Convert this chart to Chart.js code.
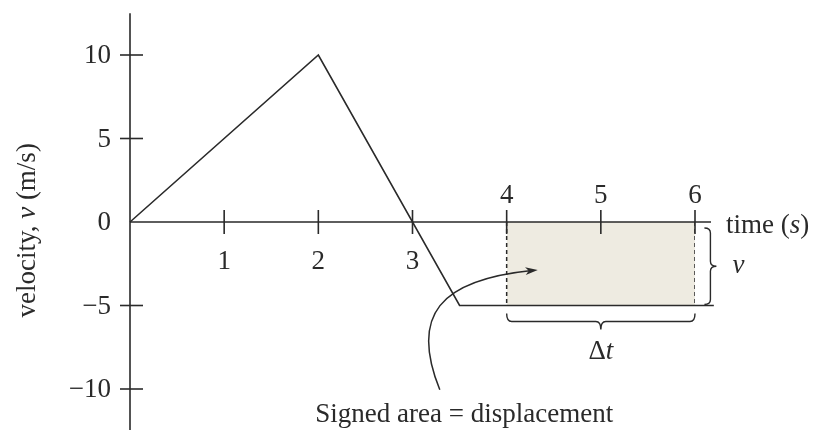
<!DOCTYPE html>
<html>
<head>
<meta charset="utf-8">
<script src="https://cdn.jsdelivr.net/npm/chart.js@4.4.1/dist/chart.umd.min.js"></script>
<style>
  html, body { margin: 0; padding: 0; background: #fff; }
</style>
</head>
<body>
<canvas id="chart" width="815" height="430"></canvas>
<script>
// Corners of the velocity graph
const times = [0, 2, 3.5, 6.2];          // s
const velocities = [0, 10, -5, -5];      // m/s

// Shaded interval (signed area)
const areaTimes = [4, 6];
const areaVelocity = -5;

// Tick labels
const xTicks = [1, 2, 3, 4, 5, 6];
const yTicks = [-10, -5, 0, 5, 10];

const ink = '#2a2a2a';
const serif = '"Liberation Serif", "DejaVu Serif", serif';

// Helper: text with italic parts, pieces = [[text, italic], ...]
function mixedText(ctx, pieces, x, y, size, align) {
    const widths = pieces.map(p => {
        ctx.font = (p[1] ? 'italic ' : '') + size + 'px ' + serif;
        return ctx.measureText(p[0]).width;
    });
    const total = widths.reduce((a, b) => a + b, 0);
    let cx = align === 'center' ? x - total / 2 : (align === 'right' ? x - total : x);
    ctx.textAlign = 'left';
    pieces.forEach((p, i) => {
        ctx.font = (p[1] ? 'italic ' : '') + size + 'px ' + serif;
        ctx.fillText(p[0], cx, y);
        cx += widths[i];
    });
}

const axesPlugin = {
    id: 'axes',
    afterDatasetsDraw(chart) {
        const ctx = chart.ctx;
        const sx = chart.scales.x, sy = chart.scales.y;
        const x0 = sx.getPixelForValue(0), y0 = sy.getPixelForValue(0);

        ctx.save();
        ctx.strokeStyle = ink;
        ctx.fillStyle = ink;
        ctx.lineWidth = 1.6;

        // Axis lines
        ctx.beginPath();
        ctx.moveTo(x0, sy.getPixelForValue(12.5));
        ctx.lineTo(x0, sy.getPixelForValue(-12.5));
        ctx.moveTo(x0, y0);
        ctx.lineTo(sx.getPixelForValue(6.17), y0);
        ctx.stroke();

        // Y ticks and labels
        ctx.textBaseline = 'middle';
        yTicks.forEach(v => {
            const py = sy.getPixelForValue(v);
            if (v !== 0) {
                ctx.beginPath();
                ctx.moveTo(x0 - 10, py);
                ctx.lineTo(x0 + 13, py);
                ctx.stroke();
            }
            const label = v < 0 ? '\u2212' + Math.abs(v) : String(v);
            mixedText(ctx, [[label, false]], x0 - 19, py + 1, 27, 'right');
        });

        // X ticks and labels (4-6 above the axis)
        xTicks.forEach(t => {
            const px = sx.getPixelForValue(t);
            ctx.beginPath();
            ctx.moveTo(px, y0 - 12);
            ctx.lineTo(px, y0 + 12);
            ctx.stroke();
            const ly = t >= 4 ? y0 - 26 : y0 + 40;
            mixedText(ctx, [[String(t), false]], px, ly, 27, 'center');
        });

        // Axis titles
        ctx.textBaseline = 'alphabetic';
        mixedText(ctx, [['time (', false], ['s', true], [')', false]], sx.getPixelForValue(6.33), y0 + 11, 27, 'left');
        ctx.save();
        ctx.translate(35, sy.getPixelForValue(-0.5));
        ctx.rotate(-Math.PI / 2);
        mixedText(ctx, [['velocity, ', false], ['v', true], [' (m/s)', false]], 0, 0, 27, 'center');
        ctx.restore();

        // Right brace for v
        const bx = sx.getPixelForValue(6.1), by1 = y0 + 6, by2 = sy.getPixelForValue(areaVelocity) - 1;
        const bym = (by1 + by2) / 2, bw = 12, r = 5;
        ctx.lineWidth = 1.4;
        ctx.beginPath();
        ctx.moveTo(bx, by1);
        ctx.quadraticCurveTo(bx + bw / 2, by1, bx + bw / 2, by1 + r);
        ctx.lineTo(bx + bw / 2, bym - r);
        ctx.quadraticCurveTo(bx + bw / 2, bym, bx + bw, bym);
        ctx.quadraticCurveTo(bx + bw / 2, bym, bx + bw / 2, bym + r);
        ctx.lineTo(bx + bw / 2, by2 - r);
        ctx.quadraticCurveTo(bx + bw / 2, by2, bx, by2);
        ctx.stroke();
        ctx.textBaseline = 'middle';
        mixedText(ctx, [['v', true]], bx + bw + 22, bym, 27, 'center');

        // Bottom brace for delta t
        const hx1 = sx.getPixelForValue(areaTimes[0]), hx2 = sx.getPixelForValue(areaTimes[1]);
        const hy = sy.getPixelForValue(areaVelocity) + 8, hh = 16;
        const hxm = (hx1 + hx2) / 2;
        ctx.beginPath();
        ctx.moveTo(hx1, hy);
        ctx.quadraticCurveTo(hx1, hy + hh / 2, hx1 + r, hy + hh / 2);
        ctx.lineTo(hxm - r, hy + hh / 2);
        ctx.quadraticCurveTo(hxm, hy + hh / 2, hxm, hy + hh);
        ctx.quadraticCurveTo(hxm, hy + hh / 2, hxm + r, hy + hh / 2);
        ctx.lineTo(hx2 - r, hy + hh / 2);
        ctx.quadraticCurveTo(hx2, hy + hh / 2, hx2, hy);
        ctx.stroke();
        mixedText(ctx, [['\u0394', false], ['t', true]], hxm, hy + hh + 22, 27, 'center');

        // Curved arrow to the shaded area
        const p0 = [sx.getPixelForValue(3.29), sy.getPixelForValue(-10.05)];
        const p1 = [sx.getPixelForValue(2.97), sy.getPixelForValue(-5.56)];
        const p2 = [sx.getPixelForValue(3.29), sy.getPixelForValue(-3.47)];
        const p3 = [sx.getPixelForValue(4.33), sy.getPixelForValue(-2.87)];
        ctx.lineWidth = 1.5;
        ctx.beginPath();
        ctx.moveTo(p0[0], p0[1]);
        ctx.bezierCurveTo(p1[0], p1[1], p2[0], p2[1], p3[0] - 6, p3[1] + 0.6);
        ctx.stroke();
        const ang = Math.atan2(p3[1] - p2[1], p3[0] - p2[0]);
        ctx.beginPath();
        ctx.moveTo(p3[0], p3[1]);
        ctx.lineTo(p3[0] - 13 * Math.cos(ang - 0.3), p3[1] - 13 * Math.sin(ang - 0.3));
        ctx.lineTo(p3[0] - 9 * Math.cos(ang), p3[1] - 9 * Math.sin(ang));
        ctx.lineTo(p3[0] - 13 * Math.cos(ang + 0.3), p3[1] - 13 * Math.sin(ang + 0.3));
        ctx.closePath();
        ctx.fill();

        ctx.textBaseline = 'alphabetic';
        mixedText(ctx, [['Signed area = displacement', false]], sx.getPixelForValue(3.55), 422, 27, 'center');
        ctx.restore();
    }
};

const xy = (xs, ys) => xs.map((x, i) => ({ x: x, y: ys[i] }));

new Chart(document.getElementById('chart').getContext('2d'), {
    type: 'scatter',
    data: {
        datasets: [
            {
                data: xy(times, velocities),
                showLine: true,
                borderColor: ink,
                borderWidth: 1.6,
                pointRadius: 0,
                clip: false
            },
            {
                // dashed edges of the shaded area
                data: xy([areaTimes[0], areaTimes[0]], [0, areaVelocity]),
                showLine: true,
                borderColor: ink,
                borderWidth: 1.5,
                borderDash: [4, 3],
                pointRadius: 0
            },
            {
                data: xy([areaTimes[1], areaTimes[1]], [0, areaVelocity]),
                showLine: true,
                borderColor: ink,
                borderWidth: 1.5,
                borderDash: [4, 3],
                pointRadius: 0
            },
            {
                // signed area between v and the time axis
                data: xy(areaTimes, [areaVelocity, areaVelocity]),
                showLine: true,
                borderWidth: 0,
                borderColor: 'rgba(0,0,0,0)',
                backgroundColor: '#eeebe1',
                fill: 'origin',
                pointRadius: 0
            }
        ]
    },
    options: {
        responsive: false,
        animation: false,
        layout: { padding: { left: 130, right: 120, top: 55, bottom: 41 } },
        plugins: { legend: { display: false }, tooltip: { enabled: false } },
        scales: {
            x: { type: 'linear', min: 0, max: 6, display: false },
            y: { type: 'linear', min: -10, max: 10, display: false }
        }
    },
    plugins: [axesPlugin]
});
</script>
</body>
</html>
